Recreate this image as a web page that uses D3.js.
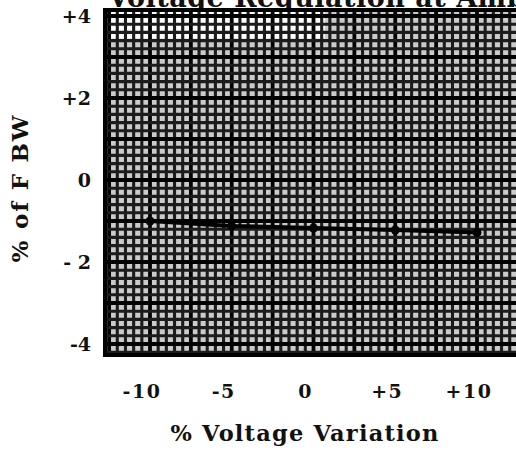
<!DOCTYPE html>
<html><head><meta charset="utf-8">
<script src="https://cdn.jsdelivr.net/npm/d3@7"></script>
<style>
html,body{margin:0;padding:0;background:#fff;}
svg{display:block;}
text{font-family:"DejaVu Serif","Liberation Serif",serif;font-weight:bold;fill:#111;}
</style></head>
<body>
<svg id="c" width="516" height="459"></svg>
<script>
// ---- data ----
const voltageVariation = [-10, -5, 0, 5, 10];          // % voltage variation
const fbwChange = [-1.0, -1.12, -1.17, -1.22, -1.28];   // % of FBW
const xTickValues = [-10, -5, 0, 5, 10];
const xTickLabels = ["-10", "-5", "0", "+5", "+10"];
const yTickValues = [4, 2, 0, -2, -4];
const yTickLabels = ["+4", "+2", "0", "- 2", "-4"];
const titleText = "Voltage Regulation at Ambient";
const xTitle = "% Voltage Variation";
const yTitle = "% of F BW";

const svg = d3.select("#c");
const plot = {left: 105, top: 10, bottom: 355, right: 530};

const x = d3.scaleLinear().domain([-10, 10]).range([150, 477]);
const y = d3.scaleLinear().domain([0, -1]).range([180, 221]);
const xMin = x.invert(plot.left), xMax = x.invert(plot.right);
const yMax = y.invert(plot.top), yMin = y.invert(plot.bottom);

// title (cropped at top of page, as in the scanned original)
svg.append("text").attr("x", 108).attr("y", 7)
  .attr("font-size", 27).attr("letter-spacing", 0.5).text(titleText);

// grid paper background
svg.append("rect").attr("x", plot.left).attr("y", plot.top)
  .attr("width", plot.right - plot.left).attr("height", plot.bottom - plot.top)
  .attr("fill", "#cbcbcb");
// lighter strip (scan artefact)
svg.append("rect").attr("x", plot.left + 3).attr("y", plot.top)
  .attr("width", x(0.5) - plot.left).attr("height", y(3.45) - plot.top)
  .attr("fill", "#ffffff");

const g = svg.append("g");
const minorX = d3.range(Math.ceil(xMin * 2) / 2, xMax, 0.5);
const minorY = d3.range(Math.ceil(yMin * 5) / 5, yMax, 0.2);
const isMajorX = v => Math.abs(v / 2.5 - Math.round(v / 2.5)) < 1e-6;
const isMajorY = v => Math.abs(v - Math.round(v)) < 1e-6;

g.selectAll("line.vx").data(minorX).join("line")
  .attr("x1", d => x(d)).attr("x2", d => x(d))
  .attr("y1", plot.top).attr("y2", plot.bottom)
  .attr("stroke", d => isMajorX(d) ? "#000" : "#1c1c1c")
  .attr("stroke-width", d => isMajorX(d) ? 3.8 : 3.1);
g.selectAll("line.hy").data(minorY).join("line")
  .attr("y1", d => y(d)).attr("y2", d => y(d))
  .attr("x1", plot.left).attr("x2", plot.right)
  .attr("stroke", d => isMajorY(d) ? "#000" : "#1c1c1c")
  .attr("stroke-width", d => isMajorY(d) ? 3.8 : 3.1);

// border
svg.append("path")
  .attr("d", `M${plot.right},${plot.top}H${plot.left}V${plot.bottom}H${plot.right}`)
  .attr("fill", "none").attr("stroke", "#000").attr("stroke-width", 4);

// data line
const pts = voltageVariation.map((v, i) => [v, fbwChange[i]]);
svg.append("path").datum(pts)
  .attr("d", d3.line().x(d => x(d[0])).y(d => y(d[1])))
  .attr("fill", "none").attr("stroke", "#000").attr("stroke-width", 4);
svg.selectAll("circle.pt").data(pts).join("circle")
  .attr("cx", d => x(d[0])).attr("cy", d => y(d[1])).attr("r", 4.5)
  .attr("fill", "#000");

// y tick labels
svg.selectAll("text.yt").data(yTickValues).join("text")
  .attr("x", 91).attr("y", d => y(d)).attr("dy", "0.35em")
  .attr("text-anchor", "end").attr("font-size", 19)
  .text((d, i) => yTickLabels[i]);

// x tick labels
svg.selectAll("text.xt").data(xTickValues).join("text")
  .attr("x", d => x(d) - 8).attr("y", 398)
  .attr("text-anchor", "middle").attr("font-size", 19).attr("letter-spacing", 1.5)
  .text((d, i) => xTickLabels[i]);

// axis titles
svg.append("text").attr("x", 305).attr("y", 441)
  .attr("text-anchor", "middle").attr("font-size", 22.5).attr("letter-spacing", 1.2)
  .text(xTitle);
svg.append("text").attr("transform", "translate(28,188) rotate(-90)")
  .attr("text-anchor", "middle").attr("font-size", 23).attr("letter-spacing", 1.8)
  .text(yTitle);
</script>
</body></html>
